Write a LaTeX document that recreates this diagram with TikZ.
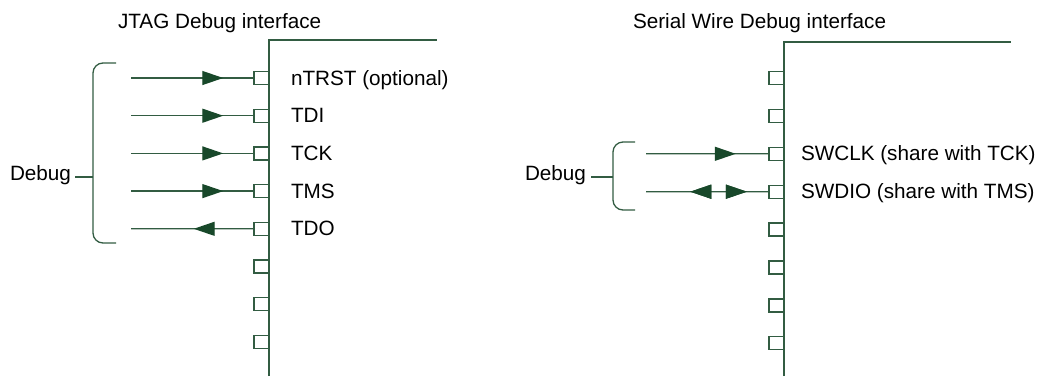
\documentclass[tikz,border=0pt]{standalone}
\usepackage{fontspec}
\setmainfont{Liberation Sans}
\usetikzlibrary{arrows.meta,decorations.markings}
\definecolor{linec}{RGB}{50,92,66}
\definecolor{arrc}{RGB}{24,72,42}
\tikzset{
  pinbox/.style={draw=linec, line width=1.3pt, minimum width=15pt, minimum height=13pt, inner sep=0pt, outer sep=0pt, fill=white},
  wire/.style={draw=linec, line width=1.3pt},
  lbl/.style={anchor=base west, inner sep=0pt, outer sep=0pt, font=\fontsize{20.7}{24}\selectfont, text=black},
  chip/.style={draw=linec, line width=1.5pt},
  brace/.style={draw=linec, line width=1.3pt, rounded corners=10pt},
  tipat/.style={postaction={decorate}, decoration={markings, mark=at position #1 with {\arrow{Triangle[length=21pt,width=14pt,color=arrc]}}}},
  tiprev/.style={postaction={decorate}, decoration={markings, mark=at position #1 with {\arrowreversed{Triangle[length=21pt,width=14pt,color=arrc]}}}},
}
\begin{document}
\begin{tikzpicture}[x=1pt,y=-1pt]
\useasboundingbox (0,0) rectangle (1045,376);

% ---------- JTAG ----------
\node[lbl] (jtitle) at (118,28) {JTAG Debug interface};
\draw[chip] (269,376) -- (269,40) -- (437,40);
\foreach \i in {0,...,7} {
  \node[pinbox] (L\i) at (261.5,{78+37.7*\i}) {};
}
\node[lbl] (lnTRST) at (291,85) {nTRST (optional)};
\node[lbl] (lTDI) at (291,122.7) {TDI};
\node[lbl] (lTCK) at (291,160.4) {TCK};
\node[lbl] (lTMS) at (291,198.1) {TMS};
\node[lbl] (lTDO) at (291,235.8) {TDO};

\foreach \i in {0,...,3} {
  \coordinate (Ls\i) at (131,{78+37.7*\i});
  \draw[wire, tipat=0.75] (Ls\i) -- (L\i.west);
}
\coordinate (Ls4) at (131,228.8);
\draw[wire, tipat=0.49] (L4.west) -- (Ls4);

\draw[brace] (116,63) -- (93,63) -- (93,243) -- (116,243);
\coordinate (Lb) at (93,177);
\node[lbl] (ldebug) at (10,180) {Debug};
\draw[wire] (75,177) -- (Lb);

% ---------- SWD ----------
\node[lbl] (stitle) at (633,28) {Serial Wire Debug interface};
\draw[chip] (784,376) -- (784,42) -- (1011,42);
\foreach \i in {0,...,7} {
  \node[pinbox] (R\i) at (776.5,{78+37.9*\i}) {};
}
\node[lbl] (lSWCLK) at (801,160.8) {SWCLK (share with TCK)};
\node[lbl] (lSWDIO) at (801,198.7) {SWDIO (share with TMS)};

\coordinate (Rs2) at (646,153.8);
\coordinate (Rs3) at (646,191.7);
\draw[wire, tipat=0.73] (Rs2) -- (R2.west);
\draw[wire, tipat=0.82, tiprev=0.36] (Rs3) -- (R3.west);

\draw[brace] (635,142) -- (613,142) -- (613,210) -- (635,210);
\coordinate (Rb) at (613,177);
\node[lbl] (rdebug) at (525,180) {Debug};
\draw[wire] (591,177) -- (Rb);
\end{tikzpicture}
\end{document}
